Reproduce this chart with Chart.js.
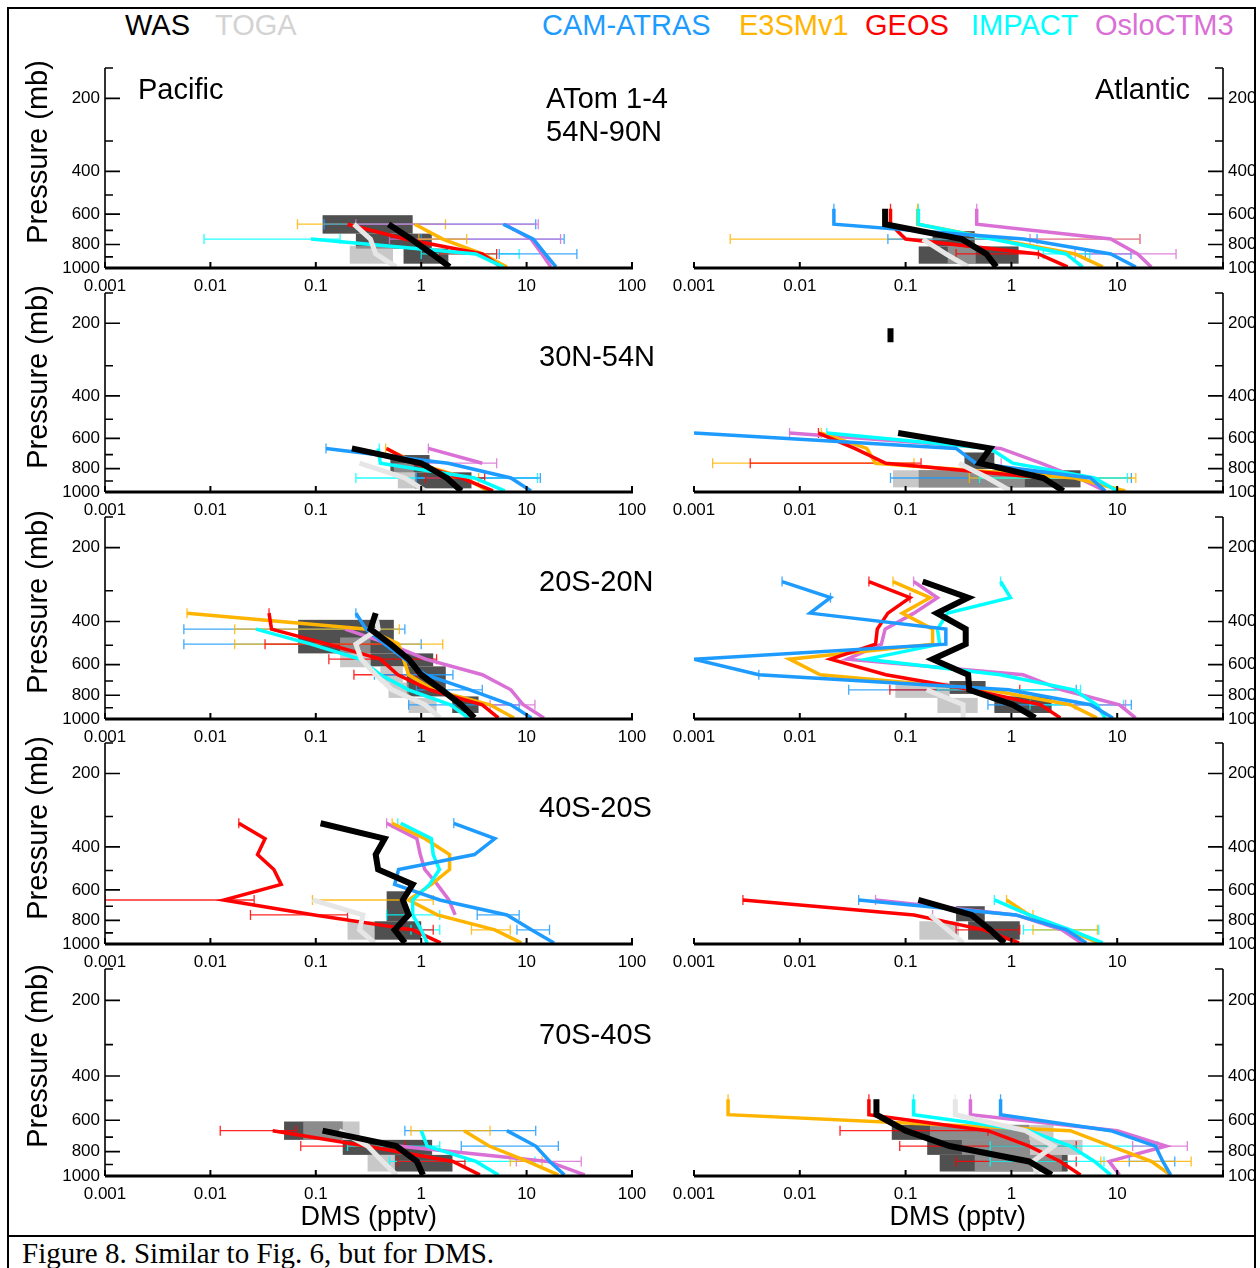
<!DOCTYPE html>
<html>
<head>
<meta charset="utf-8">
<script src="https://cdn.jsdelivr.net/npm/chart.js@4.4.1/dist/chart.umd.min.js"></script>
<style>
  body { margin: 0; width: 1260px; height: 1268px; background: #fff; position: relative; overflow: hidden;
         font-family: "Liberation Sans", Arial, Helvetica, sans-serif; }
  #plots { position: absolute; left: 0; top: 0; width: 1255px; height: 1236px; overflow: hidden; }
  #plots canvas { position: absolute; }
  .lbl { position: absolute; white-space: nowrap; line-height: 1; font-size: 29px; color: #000; }
  .rot { transform: translate(-50%, -50%) rotate(-90deg); }
  .ln { position: absolute; background: #000; }
</style>
</head>
<body>
<div id="plots"></div>

<script>
// ---- data -------------------------------------------------------------
const _ = null;

const seriesNames = ["WAS", "TOGA", "CAM-ATRAS", "E3SMv1", "GEOS", "IMPACT", "OsloCTM3"];
const regionLabels = ["54N-90N", "30N-54N", "20S-20N", "40S-20S", "70S-40S"];
const basins = ["Pacific", "Atlantic"];

// pressure levels (mb) of the profile points
const levels = [275, 320, 370, 430, 495, 570, 660, 760, 875, 990];
const xTicksPac = [0.001, 0.01, 0.1, 1, 10, 100];
const xTicksAtl = [0.001, 0.01, 0.1, 1, 10];
const yTicks = [200, 400, 600, 800, 1000];
const yMinor = [150, 300, 500, 700, 900];

// profiles, one row per series in seriesNames order, DMS (pptv) at each level
const pac1 = [
  [_, _, _, _, _, _, 0.49, 0.80, 1.27, 1.86],
  [_, _, _, _, _, _, 0.23, 0.33, 0.37, 0.58],
  [_, _, _, _, _, _, 6.0, 11.6, 15, 19],
  [_, _, _, _, _, _, 0.87, 1.6, 3.8, 6.5],
  [_, _, _, _, _, _, 0.2, 0.7, 3.8, 5.7],
  [_, _, _, _, _, _, _, 0.09, 3.3, 6.0],
  [_, _, _, _, _, _, 6.2, 11, 14, 17]
];
const atl1 = [
  [_, _, _, _, _, 0.064, 0.064, 0.34, 0.58, 0.72],
  [_, _, _, _, _, _, _, 0.145, 0.24, 0.39],
  [_, _, _, _, _, 0.021, 0.021, 1.3, 8.7, 15],
  [_, _, _, _, _, 0.13, 0.13, 0.7, 4.0, 7.3],
  [_, _, _, _, _, 0.072, 0.072, 0.1, 1.8, 3.4],
  [_, _, _, _, _, 0.132, 0.132, 0.66, 3.3, 4.7],
  [_, _, _, _, _, 0.47, 0.47, 8.7, 15.6, 21]
];
const pac2 = [
  [_, _, _, _, _, _, 0.22, 1.0, 1.75, 2.4],
  [_, _, _, _, _, _, _, 0.26, 0.7, 1.09],
  [_, _, _, _, _, _, 0.125, 1.8, 7.1, 11],
  [_, _, _, _, _, _, 0.46, 0.9, 2.6, 4.3],
  [_, _, _, _, _, _, 0.47, 0.85, 2.4, 4.8],
  [_, _, _, _, _, _, 0.39, 0.41, 3.2, 6.2],
  [_, _, _, _, _, _, 1.17, 3.8, _, _]
];
const atl2 = [
  [_, _, _, _, _, 0.085, 0.63, 0.5, 2.0, 3.1],
  [_, _, _, _, _, _, _, 0.32, 0.6, 0.98],
  [_, _, _, _, _, 0.001, 0.3, 0.46, 5.6, 7.7],
  [_, _, _, _, _, 0.016, 0.043, 0.052, 4.0, 11.9],
  [_, _, _, _, _, 0.015, 0.033, 0.065, 2.1, 2.9],
  [_, _, _, _, _, 0.018, 0.63, 1.03, 6.1, 10],
  [_, _, _, _, _, 0.008, 0.79, 1.9, 4.3, 7.7]
];
const atl2Spot = [[0.072, 210], [0.072, 240]]; // lone WAS sample aloft
const pac3 = [
  [_, _, 0.37, 0.33, 0.51, 0.76, 1.0, 1.56, 2.4, 3.2],
  [_, _, 0.37, 0.39, 0.24, 0.27, 0.37, 0.53, 1.09, 1.5],
  [_, _, 0.24, 0.3, 0.45, 0.7, 1.09, 2.9, 7.1, 11.1],
  [_, _, 0.006, 0.31, 0.61, 0.68, 0.76, 1.3, 4.5, 7.6],
  [_, _, 0.036, 0.038, 0.13, 0.41, 0.6, 1.2, 3.8, 5.4],
  [_, _, _, 0.027, 0.09, 0.26, 0.41, 0.76, 1.9, 2.8],
  [_, _, _, 0.19, 0.5, 1.1, 3.8, 7.1, 9.3, 14.6]
];
const atl3 = [
  [0.145, 0.39, 0.198, 0.37, 0.37, 0.18, 0.39, 0.40, 1.03, 1.68],
  [_, _, _, _, _, _, _, 0.158, 0.35, 0.35],
  [0.0068, 0.0195, 0.0125, 0.24, 0.24, 0.001, 0.0041, 0.94, 5.6, 9.1],
  [0.076, 0.17, 0.093, 0.18, 0.18, 0.008, 0.0156, 0.6, 3.6, 6.4],
  [0.045, 0.11, 0.068, 0.054, 0.052, 0.0195, 0.065, 0.42, 1.9, 2.9],
  [0.79, 0.98, 0.25, 0.2, 0.21, 0.043, 0.79, 3.9, 6.4, 7.7],
  [0.119, 0.2, 0.12, 0.064, 0.059, 0.028, 1.29, 3.0, 10.5, 14.9]
];
const pac4 = [
  [_, 0.111, 0.45, 0.37, 0.39, 0.83, 0.67, 0.76, 0.56, 0.70],
  [_, _, _, _, _, _, 0.093, 0.28, 0.26, 0.36],
  [_, 2.04, 5.0, 3.2, 0.61, 0.56, 1.5, 6.5, 11.1, 18.2],
  [_, 0.53, 1.09, 1.86, 1.86, 1.25, 0.76, 1.42, 5.0, 8.9],
  [_, 0.0186, 0.033, 0.028, 0.04, 0.047, 0.0134, 0.097, 0.83, 1.53],
  [_, 0.64, 1.25, 1.3, 1.49, 1.2, 0.83, 0.83, 1.0, 1.14],
  [_, 0.47, 0.91, 0.98, 1.08, 1.42, 1.83, 2.1, _, _]
];
const atl4 = [
  [_, _, _, _, _, _, 0.132, 0.42, 0.63, 0.86],
  [_, _, _, _, _, _, _, 0.17, 0.25, 0.35],
  [_, _, _, _, _, _, 0.036, 1.1, 3.3, 5.1],
  [_, _, _, _, _, _, 0.9, 1.47, 3.4, 6.7],
  [_, _, _, _, _, _, 0.0029, 0.12, 0.55, 1.18],
  [_, _, _, _, _, _, 0.69, 1.47, 3.6, 7.3],
  [_, _, _, _, _, _, 0.052, 1.1, 3.0, 4.6]
];
const pac5 = [
  [_, _, _, _, _, _, 0.116, 0.58, 0.91, 1.04],
  [_, _, _, _, _, _, 0.166, 0.31, 0.43, 0.58],
  [_, _, _, _, _, _, 6.5, 12.2, 16.6, 22.8],
  [_, _, _, _, _, _, 2.55, 4.4, 10.2, 20],
  [_, _, _, _, _, _, 0.039, 0.30, 2.0, 3.6],
  [_, _, _, _, _, _, 1.0, 1.14, 3.3, 5.4],
  [_, _, _, _, _, _, 0.12, 0.6, 15.9, 35.6]
];
const atl5 = [
  [_, _, _, _, 0.053, 0.053, 0.1, 0.26, 1.47, 2.4],
  [_, _, _, _, 0.295, 0.295, 1.35, 2.5, 1.6, 1.76],
  [_, _, _, _, 0.79, 0.79, 8.7, 23, 27, 32],
  [_, _, _, _, 0.0021, 0.0021, 3.6, 8.7, 21, 32],
  [_, _, _, _, 0.045, 0.045, 0.6, 1.47, 2.9, 4.5],
  [_, _, _, _, 0.119, 0.119, 1.47, 3.6, 6.1, 8.7],
  [_, _, _, _, 0.41, 0.41, 10, 29, 8.4, 10.5]
];

// percentile boxes: [0 = WAS / 1 = TOGA, low, high, p top, p bottom]
const pac1Box = [[0, 0.116, 0.83, 606, 722], [0, 0.24, 1.26, 722, 832], [0, 0.68, 1.81, 832, 960], [1, 0.21, 0.54, 810, 960]];
const atl1Box = [[0, 0.18, 0.45, 705, 815], [0, 0.133, 1.17, 815, 960], [1, 0.25, 0.46, 815, 960]];
const pac2Box = [[0, 0.51, 1.2, 703, 829], [0, 0.87, 3.0, 829, 966], [1, 0.55, 0.85, 760, 829], [1, 0.6, 0.9, 829, 966]];
const atl2Box = [[0, 0.36, 0.69, 686, 803], [0, 0.133, 4.5, 813, 957], [1, 0.076, 1.34, 813, 957]];
const pac3Box = [[0, 0.068, 0.55, 394, 540], [0, 0.33, 1.3, 540, 610], [0, 0.73, 1.71, 610, 809], [0, 1.97, 3.5, 809, 945],
                 [1, 0.17, 0.33, 465, 615], [1, 0.41, 0.67, 610, 710], [1, 0.49, 0.76, 710, 820], [1, 0.76, 1.4, 820, 945]];
const atl3Box = [[0, 0.26, 0.57, 700, 790], [0, 0.69, 2.4, 809, 945], [1, 0.08, 0.26, 710, 820], [1, 0.2, 0.48, 820, 945]];
const pac4Box = [[0, 0.47, 0.72, 608, 807], [0, 0.36, 1.0, 807, 960], [1, 0.2, 0.36, 807, 960]];
const atl4Box = [[0, 0.3, 0.56, 700, 807], [0, 0.39, 1.2, 807, 960], [1, 0.135, 0.32, 807, 960]];
const pac5Box = [[0, 0.05, 0.18, 607, 718], [0, 0.18, 1.27, 718, 824], [0, 0.56, 1.98, 824, 960], [1, 0.076, 0.26, 607, 718], [1, 0.31, 0.56, 824, 960]];
const atl5Box = [[0, 0.074, 1.47, 626, 718], [0, 0.16, 1.5, 718, 824], [0, 0.21, 3.4, 824, 960],
                 [1, 0.17, 2.5, 626, 718], [1, 0.34, 4.7, 718, 824], [1, 0.45, 3.0, 824, 960]];

// error bars: [series index, pressure, low, high]
const pac1Err = [[3, 660, 0.067, 1.7], [2, 660, 0.12, 12.2], [6, 660, 0.24, 12.9], [5, 760, 0.0087, 0.17], [2, 760, 1.0, 22.7],
                 [6, 760, 0.5, 21], [3, 760, 0.95, 2.7], [5, 875, 1.0, 8.5], [2, 875, 5.5, 30], [4, 875, 1.5, 5.2]];
const atl1Err = [[3, 760, 0.0022, 16.3], [2, 760, 0.068, 1.75], [6, 760, 1.5, 16.5], [2, 875, 5, 13.5], [6, 875, 4, 36],
                 [4, 875, 0.3, 1.8], [5, 875, 2.0, 5.5], [2, 570, 0.021, 0.021], [4, 570, 0.072, 0.072],
                 [5, 570, 0.132, 0.132], [6, 570, 0.47, 0.47], [3, 570, 0.13, 0.13]];
const pac2Err = [[5, 875, 0.24, 12.7], [2, 875, 0.9, 13.5], [6, 760, 1.2, 5.2], [2, 660, 0.125, 0.125], [5, 660, 0.4, 0.4],
                 [3, 660, 0.46, 0.46], [6, 660, 1.17, 1.17], [3, 875, 1.9, 3.5], [4, 875, 1.1, 4.0]];
const atl2Err = [[3, 760, 0.0015, 0.12], [4, 760, 0.0034, 0.14], [2, 875, 0.072, 13.6], [3, 875, 0.4, 15], [5, 875, 0.5, 12.5],
                 [6, 570, 0.008, 0.008], [4, 570, 0.015, 0.015], [3, 570, 0.016, 0.016], [5, 570, 0.018, 0.018], [6, 760, 0.8, 0.8]];
const pac3Err = [[2, 430, 0.0056, 0.7], [3, 430, 0.017, 0.62], [2, 495, 0.0056, 1.0], [3, 495, 0.017, 1.6], [4, 495, 0.033, 0.5],
                 [4, 570, 0.133, 1.4], [4, 660, 0.23, 0.9], [2, 660, 0.36, 2.0], [2, 760, 0.9, 3.8], [2, 875, 0.76, 8.5],
                 [6, 875, 4.5, 12], [3, 370, 0.006, 0.006], [4, 370, 0.036, 0.036], [2, 370, 0.24, 0.24]];
const atl3Err = [[2, 760, 0.029, 4.1], [4, 760, 0.071, 1.2], [5, 760, 0.2, 4.5], [2, 875, 0.6, 13.6], [5, 875, 1.5, 11.5],
                 [6, 875, 4, 12], [2, 275, 0.0068, 0.0068], [4, 275, 0.045, 0.045], [3, 275, 0.076, 0.076],
                 [6, 275, 0.119, 0.119], [5, 275, 0.79, 0.79], [2, 320, 0.0195, 0.0195], [4, 320, 0.11, 0.11], [2, 660, 0.0041, 0.0041]];
const pac4Err = [[3, 660, 0.093, 1.3], [4, 660, 0.001, 0.026], [4, 760, 0.024, 0.2], [5, 760, 0.47, 1.5], [2, 760, 3.4, 8.5],
                 [3, 875, 3.0, 7.0], [2, 875, 8.1, 16.5], [5, 875, 0.8, 1.5], [4, 875, 0.6, 1.3], [4, 320, 0.0186, 0.0186],
                 [2, 320, 2.04, 2.04], [5, 320, 0.6, 0.6], [6, 320, 0.47, 0.47], [3, 320, 0.53, 0.53]];
const atl4Err = [[4, 875, 0.3, 1.2], [5, 875, 1.3, 6.7], [3, 875, 1.6, 6.5], [2, 660, 0.036, 0.036], [6, 660, 0.052, 0.052],
                 [4, 660, 0.0029, 0.0029], [5, 660, 0.69, 0.69], [3, 660, 0.9, 0.9], [6, 760, 0.18, 0.18], [3, 760, 1.6, 1.6]];
const pac5Err = [[4, 660, 0.0124, 0.065], [2, 660, 0.7, 12.2], [3, 660, 0.8, 4.5], [4, 760, 0.072, 0.7], [2, 760, 2.4, 20],
                 [5, 760, 0.2, 1.5], [5, 875, 0.5, 12], [6, 875, 8, 33], [4, 875, 0.6, 2.6], [3, 875, 7, 14]];
const atl5Err = [[4, 660, 0.024, 0.6], [4, 760, 0.088, 4.1], [4, 875, 0.3, 4.1], [5, 760, 0.63, 24], [5, 875, 0.63, 7.5],
                 [6, 760, 14, 46], [2, 875, 13, 35], [3, 875, 7, 50], [2, 495, 0.79, 0.79], [3, 495, 0.0021, 0.0021],
                 [4, 495, 0.045, 0.045], [5, 495, 0.119, 0.119], [6, 495, 0.41, 0.41], [1, 495, 0.295, 0.295]];

// ---- styling ------------------------------------------------------------
const FONT = '"Liberation Sans", Arial, Helvetica, sans-serif';
const lineColors = ["#000000", "#e6e6e6", "#1e9bff", "#ffb400", "#ff0000", "#00ffff", "#da70d6"];
const textColors = ["#000000", "#d3d3d3", "#1e9bff", "#ffb400", "#ff0000", "#00ffff", "#da70d6"];
const lineWidths = [6, 5, 3.5, 3.5, 3.5, 3.5, 3.5];
const drawOrder = [0, 1, 2, 5, 4, 3, 6]; // lower is drawn on top
const WAS_BOX = "rgb(80,80,80)";
const TOGA_BOX = "rgba(171,171,171,0.66)";

const ROW_TOP = [68, 293, 517, 743, 969];
const ROW_BOT = [268, 492, 719, 944, 1176];
const COL_L = [105, 694];
const COL_R = [632, 1223];

// boxes, error bars and the IDL-like axes
const extrasPlugin = {
  id: "extras",
  beforeDatasetsDraw(chart, args, opts) {
    const { ctx, chartArea: a, scales: { x, y } } = chart;
    ctx.save();
    ctx.beginPath();
    ctx.rect(a.left, a.top, a.right - a.left, a.bottom - a.top);
    ctx.clip();
    [0, 1].forEach(kind => {
      ctx.fillStyle = kind === 0 ? WAS_BOX : TOGA_BOX;
      opts.boxes.filter(b => b[0] === kind).forEach(([k, lo, hi, pt, pb]) => {
        const x0 = x.getPixelForValue(lo), x1 = x.getPixelForValue(hi);
        const y0 = y.getPixelForValue(pt), y1 = y.getPixelForValue(pb);
        ctx.fillRect(x0, y0, x1 - x0, y1 - y0);
      });
    });
    ctx.lineWidth = 1.3;
    ctx.globalAlpha = 0.85;
    opts.errs.forEach(([s, p, lo, hi]) => {
      const yy = y.getPixelForValue(p);
      const x0 = x.getPixelForValue(lo), x1 = x.getPixelForValue(hi);
      ctx.strokeStyle = lineColors[s];
      ctx.beginPath();
      ctx.moveTo(x0, yy); ctx.lineTo(x1, yy);
      ctx.moveTo(x0, yy - 5); ctx.lineTo(x0, yy + 5);
      ctx.moveTo(x1, yy - 5); ctx.lineTo(x1, yy + 5);
      ctx.stroke();
    });
    ctx.restore();
  },
  afterDraw(chart, args, opts) {
    const { ctx, chartArea: a, scales: { x, y } } = chart;
    ctx.save();
    ctx.strokeStyle = "#000";
    // bottom axis with decade ticks
    ctx.lineWidth = 3;
    ctx.beginPath();
    ctx.moveTo(a.left, a.bottom); ctx.lineTo(a.right + 1, a.bottom);
    ctx.stroke();
    ctx.lineWidth = 2;
    ctx.beginPath();
    xTicksPac.forEach(v => {
      const px = x.getPixelForValue(v);
      ctx.moveTo(px, a.bottom); ctx.lineTo(px, a.bottom - 6);
    });
    ctx.stroke();
    // pressure axis, ticks pointing into the plot
    const ax = opts.side === 0 ? a.left : a.right;
    const dir = opts.side === 0 ? 1 : -1;
    ctx.lineWidth = 1.6;
    ctx.beginPath();
    ctx.moveTo(ax, a.top); ctx.lineTo(ax, a.bottom);
    yTicks.slice(0, 4).forEach(p => {
      const py = y.getPixelForValue(p);
      ctx.moveTo(ax, py); ctx.lineTo(ax + dir * 15, py);
    });
    yMinor.forEach(p => {
      const py = y.getPixelForValue(p);
      ctx.moveTo(ax, py); ctx.lineTo(ax + dir * 8, py);
    });
    ctx.stroke();
    ctx.restore();
  }
};

const holder = document.getElementById("plots");

function makePanel(col, row, profiles, boxes, errs, spot) {
  const left = COL_L[col], right = COL_R[col], top = ROW_TOP[row], bot = ROW_BOT[row];
  const axW = col === 0 ? 70 : 45;
  const side = col === 0 ? 25 : 30;
  const padTop = 20, axH = 40;
  const cv = document.createElement("canvas");
  cv.width = axW + (right - left) + side;
  cv.height = padTop + (bot - top) + axH;
  cv.style.left = (col === 0 ? left - axW : left - side) + "px";
  cv.style.top = (top - padTop) + "px";
  holder.appendChild(cv);

  const datasets = profiles.map((vals, s) => ({
    label: seriesNames[s],
    data: levels.map((p, i) => vals[i] == null ? null : { x: vals[i], y: p }).filter(d => d),
    showLine: true,
    borderColor: lineColors[s],
    backgroundColor: lineColors[s],
    borderWidth: lineWidths[s],
    borderJoinStyle: "miter",
    borderCapStyle: "butt",
    pointRadius: 0,
    tension: 0,
    order: drawOrder[s]
  }));
  if (spot) {
    datasets.push({
      label: "WAS", data: spot.map(([v, p]) => ({ x: v, y: p })), showLine: true,
      borderColor: "#000", borderWidth: 6, borderCapStyle: "butt", pointRadius: 0, order: 0
    });
  }

  const tickFont = { family: FONT, size: 17 };
  new Chart(cv, {
    type: "scatter",
    data: { datasets },
    options: {
      responsive: false,
      animation: false,
      devicePixelRatio: 1,
      events: [],
      layout: { padding: col === 0 ? { top: padTop, right: side, left: 0, bottom: 0 }
                                   : { top: padTop, left: side, right: 0, bottom: 0 } },
      plugins: {
        legend: { display: false },
        tooltip: { enabled: false },
        extras: { boxes, errs, side: col }
      },
      scales: {
        x: {
          type: "logarithmic", min: 0.001, max: 100, position: "bottom",
          grid: { display: false, drawTicks: false }, border: { display: false },
          afterBuildTicks: s => { s.ticks = (col === 0 ? xTicksPac : xTicksAtl).map(v => ({ value: v })); },
          afterFit: s => { s.height = axH; },
          ticks: { autoSkip: false, maxRotation: 0, padding: 8, color: "#000", font: tickFont,
                   callback: v => String(v) }
        },
        y: {
          type: "logarithmic", reverse: true, min: 150, max: 1000, position: col === 0 ? "left" : "right",
          grid: { display: false, drawTicks: false }, border: { display: false },
          afterBuildTicks: s => { s.ticks = yTicks.map(v => ({ value: v })); },
          afterFit: s => { s.width = axW; },
          ticks: { autoSkip: false, padding: 5, color: "#000", font: tickFont, callback: v => String(v) }
        }
      }
    },
    plugins: [extrasPlugin]
  });
}

makePanel(0, 0, pac1, pac1Box, pac1Err);
makePanel(1, 0, atl1, atl1Box, atl1Err);
makePanel(0, 1, pac2, pac2Box, pac2Err);
makePanel(1, 1, atl2, atl2Box, atl2Err, atl2Spot);
makePanel(0, 2, pac3, pac3Box, pac3Err);
makePanel(1, 2, atl3, atl3Box, atl3Err);
makePanel(0, 3, pac4, pac4Box, pac4Err);
makePanel(1, 3, atl4, atl4Box, atl4Err);
makePanel(0, 4, pac5, pac5Box, pac5Err);
makePanel(1, 4, atl5, atl5Box, atl5Err);

// ---- text -----------------------------------------------------------------
function addText(txt, left, top, opts) {
  const d = document.createElement("div");
  d.className = "lbl" + (opts && opts.rot ? " rot" : "");
  d.textContent = txt;
  d.style.left = left + "px";
  d.style.top = top + "px";
  if (opts && opts.color) d.style.color = opts.color;
  if (opts && opts.size) d.style.fontSize = opts.size + "px";
  if (opts && opts.family) d.style.fontFamily = opts.family;
  document.body.appendChild(d);
  return d;
}

const legendX = [125, 215, 542, 739, 865, 971, 1095];
seriesNames.forEach((n, i) => addText(n, legendX[i], 11, { color: textColors[i] }));

addText(basins[0], 138, 74.5);
addText(basins[1], 1095, 74.5);
addText("ATom 1-4", 546, 84);
const regionTop = [117, 342, 567, 793, 1020];
regionLabels.forEach((r, i) => addText(r, i === 0 ? 546 : 539, regionTop[i]));

const pressureY = [152, 377, 602, 828, 1056];
pressureY.forEach(cy => addText("Pressure (mb)", 37, cy, { rot: true }));

const dmsL = addText("DMS (pptv)", 0, 1203, { size: 27 });
dmsL.style.left = (369 - dmsL.offsetWidth / 2) + "px";
const dmsR = addText("DMS (pptv)", 0, 1203, { size: 27 });
dmsR.style.left = (958 - dmsR.offsetWidth / 2) + "px";

addText("Figure 8. Similar to Fig. 6, but for DMS.", 22, 1239,
        { size: 29, family: '"Liberation Serif", "Times New Roman", Times, serif' });

// ---- frame ----------------------------------------------------------------
[[7, 7, 1249, 2], [7, 7, 2, 1261], [1254, 7, 2, 1261], [7, 1235, 1249, 2]].forEach(([l, t, w, h]) => {
  const d = document.createElement("div");
  d.className = "ln";
  Object.assign(d.style, { left: l + "px", top: t + "px", width: w + "px", height: h + "px" });
  document.body.appendChild(d);
});
</script>
</body>
</html>
